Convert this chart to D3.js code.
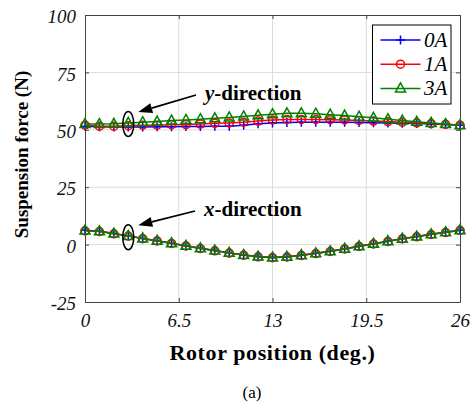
<!DOCTYPE html>
<html>
<head>
<meta charset="utf-8">
<script src="https://cdn.jsdelivr.net/npm/d3@7"></script>
<style>
  body { margin: 0; background: #fff; }
  svg, svg text { font-family: "Liberation Serif", "Times New Roman", "DejaVu Serif", serif; }
</style>
</head>
<body>
<div id="chart"></div>
<script>
// rotor position (deg.)
const positions = d3.range(0, 27);

const xTicks = [0, 6.5, 13, 19.5, 26];
const yTicks = [-25, 0, 25, 50, 75, 100];

// y-direction suspension force (N)
const fy0A = [51.5, 51.3, 51.2, 51.2, 51.2, 51.3, 51.3, 51.4, 51.4, 51.5, 51.6, 52.0, 52.6, 53.0, 53.2, 53.3, 53.3, 53.3, 53.3, 53.2, 53.1, 53.0, 52.9, 52.7, 52.5, 52.3, 52.0];
const fy1A = [52.0, 51.6, 51.6, 51.8, 52.0, 52.0, 52.2, 52.3, 52.5, 52.8, 53.0, 53.3, 53.8, 54.3, 54.5, 54.5, 54.5, 54.4, 54.3, 54.1, 53.8, 53.6, 53.3, 53.0, 52.7, 52.4, 52.0];
const fy3A = [52.5, 52.5, 52.6, 53.0, 53.3, 53.6, 54.0, 54.3, 54.6, 55.0, 55.4, 55.8, 56.3, 56.8, 57.2, 57.2, 57.0, 56.6, 56.2, 55.7, 55.2, 54.6, 54.0, 53.5, 53.0, 52.5, 52.0];

// x-direction suspension force (N)
const fx0A = [6.2, 5.8, 4.8, 3.8, 2.7, 1.7, 0.6, -0.5, -1.6, -2.6, -3.6, -4.5, -5.2, -5.6, -5.3, -4.6, -3.8, -2.9, -1.8, -0.7, 0.4, 1.5, 2.6, 3.5, 4.5, 5.4, 6.3];
const fx1A = [6.0, 5.7, 4.7, 3.7, 2.6, 1.6, 0.5, -0.6, -1.7, -2.7, -3.7, -4.6, -5.3, -5.7, -5.4, -4.7, -3.9, -3.0, -1.9, -0.8, 0.3, 1.4, 2.5, 3.4, 4.4, 5.3, 6.2];
const fx3A = [6.1, 5.8, 4.8, 3.8, 2.7, 1.7, 0.6, -0.5, -1.6, -2.6, -3.6, -4.5, -5.2, -5.6, -5.3, -4.6, -3.8, -2.9, -1.8, -0.7, 0.4, 1.5, 2.6, 3.5, 4.5, 5.4, 6.3];

const seriesNames = ["0A", "1A", "3A"];
const seriesColors = ["#0000ff", "#ff0000", "#008000"];

window.onload = function () {
    const W = 473, H = 406;
    const margin = { top: 15, right: 13, bottom: 104, left: 85 };
    const width = W - margin.left - margin.right;
    const height = H - margin.top - margin.bottom;
    const serif = "'Liberation Serif', 'Times New Roman', 'DejaVu Serif', serif";

    const svg = d3.select("#chart")
        .append("svg")
        .attr("width", W)
        .attr("height", H)
        .attr("font-family", serif);

    const g = svg.append("g")
        .attr("transform", "translate(" + margin.left + "," + margin.top + ")");

    const x = d3.scaleLinear().domain([0, 26]).range([0, width]);
    const y = d3.scaleLinear().domain([-25, 100]).range([height, 0]);

    // grid
    g.append("g").selectAll("line")
        .data(xTicks.slice(1, -1))
        .enter().append("line")
        .attr("x1", d => x(d)).attr("x2", d => x(d))
        .attr("y1", 0).attr("y2", height)
        .attr("stroke", "#dcdcdc").attr("stroke-width", 1);
    g.append("g").selectAll("line")
        .data(yTicks.slice(1, -1))
        .enter().append("line")
        .attr("x1", 0).attr("x2", width)
        .attr("y1", d => y(d)).attr("y2", d => y(d))
        .attr("stroke", "#dcdcdc").attr("stroke-width", 1);

    // axes
    const fmt = d => String(d);
    const xAxis = g.append("g")
        .attr("transform", "translate(0," + height + ")")
        .call(d3.axisBottom(x).tickValues(xTicks).tickFormat(fmt).tickSizeInner(-4).tickSizeOuter(0).tickPadding(12));
    const yAxis = g.append("g")
        .call(d3.axisLeft(y).tickValues(yTicks).tickFormat(fmt).tickSizeInner(-4).tickSizeOuter(0).tickPadding(9));
    g.append("g")
        .call(d3.axisTop(x).tickValues(xTicks).tickSizeInner(-4).tickSizeOuter(0).tickFormat(""));
    g.append("g")
        .attr("transform", "translate(" + width + ",0)")
        .call(d3.axisRight(y).tickValues(yTicks).tickSizeInner(-4).tickSizeOuter(0).tickFormat(""));

    g.selectAll(".domain").attr("stroke", "#444");
    g.selectAll(".tick line").attr("stroke", "#444");

    [xAxis, yAxis].forEach(function (ax) {
        ax.attr("font-family", serif);
        ax.selectAll("text")
            .style("font-style", "italic")
            .style("font-size", "19px")
            .attr("fill", "#111");
    });
    xAxis.selectAll("text").attr("dy", "0.71em");
    yAxis.selectAll("text").attr("dy", "0.4em");

    // series lines + markers
    const allSeries = [
        { name: "0A", color: seriesColors[0], y: fy0A, x: fx0A, marker: "plus" },
        { name: "1A", color: seriesColors[1], y: fy1A, x: fx1A, marker: "circle" },
        { name: "3A", color: seriesColors[2], y: fy3A, x: fx3A, marker: "triangle" }
    ];

    const line = d3.line()
        .x(d => x(d[0]))
        .y(d => y(d[1]));

    function drawMarker(sel, type, color) {
        if (type === "plus") {
            sel.append("path")
                .attr("d", "M-4.5,0H4.5M0,-4.5V4.5")
                .attr("stroke", color).attr("stroke-width", 1.5).attr("fill", "none");
        } else if (type === "circle") {
            sel.append("circle")
                .attr("r", 4)
                .attr("stroke", color).attr("stroke-width", 1.5).attr("fill", "none");
        } else {
            sel.append("path")
                .attr("d", "M0,-5.5L5,3.5L-5,3.5Z")
                .attr("stroke", color).attr("stroke-width", 1.5).attr("fill", "none");
        }
    }

    allSeries.forEach(function (s) {
        ["y", "x"].forEach(function (dir) {
            const pts = positions.map((p, i) => [p, s[dir][i]]);
            g.append("path")
                .datum(pts)
                .attr("d", line)
                .attr("fill", "none")
                .attr("stroke", s.color)
                .attr("stroke-width", 1.5);
            g.append("g").selectAll("g")
                .data(pts)
                .enter().append("g")
                .attr("transform", d => "translate(" + x(d[0]) + "," + y(d[1]) + ")")
                .each(function () { drawMarker(d3.select(this), s.marker, s.color); });
        });
    });

    // annotations: ellipses and arrows
    const notes = [
        { label: "y", px: 3, py: 52.5, tx: 205, ty: 100 },
        { label: "x", px: 3, py: 3.2, tx: 204, ty: 216 }
    ];
    notes.forEach(function (n) {
        const cx = x(n.px), cy = y(n.py);
        g.append("ellipse")
            .attr("cx", cx).attr("cy", cy)
            .attr("rx", 5.5).attr("ry", 12.5)
            .attr("fill", "none").attr("stroke", "#000").attr("stroke-width", 1.5);
        const x1 = n.tx - 9, y1 = n.ty - 5;
        const x2 = margin.left + cx + 10, y2 = margin.top + cy - 12;
        const ang = Math.atan2(y2 - y1, x2 - x1);
        const hl = 14, hw = 5;
        const bx = x2 - hl * Math.cos(ang), by = y2 - hl * Math.sin(ang);
        svg.append("line")
            .attr("x1", x1).attr("y1", y1)
            .attr("x2", bx).attr("y2", by)
            .attr("stroke", "#000").attr("stroke-width", 1.8);
        svg.append("path")
            .attr("d", "M" + x2 + "," + y2 +
                "L" + (bx + hw * Math.sin(ang)) + "," + (by - hw * Math.cos(ang)) +
                "L" + (bx - hw * Math.sin(ang)) + "," + (by + hw * Math.cos(ang)) + "Z")
            .attr("fill", "#000");
        const t = svg.append("text")
            .attr("x", n.tx).attr("y", n.ty)
            .style("font-size", "21px").style("font-weight", "bold");
        t.append("tspan").style("font-style", "italic").text(n.label);
        t.append("tspan").text("-direction");
    });

    // legend
    const legend = svg.append("g");
    legend.append("rect")
        .attr("x", 372.5).attr("y", 25)
        .attr("width", 78.5).attr("height", 79)
        .attr("fill", "#fff").attr("stroke", "#000").attr("stroke-width", 1);
    seriesNames.forEach(function (name, i) {
        const ly = 40 + i * 24.2;
        const s = allSeries[i];
        legend.append("line")
            .attr("x1", 380.5).attr("x2", 420.5)
            .attr("y1", ly).attr("y2", ly)
            .attr("stroke", s.color).attr("stroke-width", 1.5);
        const m = legend.append("g").attr("transform", "translate(400.5," + ly + ")");
        drawMarker(m, s.marker, s.color);
        legend.append("text")
            .attr("x", 424).attr("y", ly + 7)
            .style("font-size", "21px").style("font-style", "italic")
            .text(name);
    });

    // axis titles
    svg.append("text")
        .attr("x", margin.left + width / 2).attr("y", 360)
        .attr("text-anchor", "middle")
        .style("font-size", "22px").style("font-weight", "bold")
        .style("letter-spacing", "0.6px")
        .text("Rotor position (deg.)");
    svg.append("text")
        .attr("transform", "translate(28," + (margin.top + height / 2 - 4) + ") rotate(-90)")
        .attr("text-anchor", "middle")
        .style("font-size", "19px").style("font-weight", "bold")
        .text("Suspension force (N)");
    svg.append("text")
        .attr("x", 252).attr("y", 398)
        .attr("text-anchor", "middle")
        .style("font-size", "17px")
        .text("(a)");
};
</script>
</body>
</html>
